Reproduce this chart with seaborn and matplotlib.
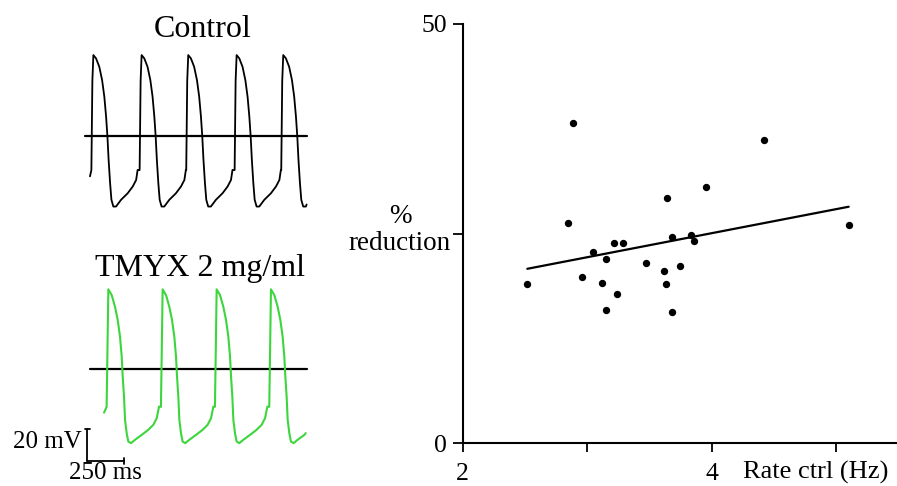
import numpy as np
import pandas as pd
import matplotlib
matplotlib.use('Agg')
import matplotlib.pyplot as plt
import seaborn as sns

# right panel: spontaneous rate in control vs % reduction
rate_ctrl = [2.884, 4.418, 3.954, 3.643, 2.846, 5.100, 3.679, 3.831, 3.855, 3.215, 3.290, 3.049,
             3.151, 3.470, 3.745, 3.614, 2.958, 3.119, 2.519, 3.630, 3.239, 3.153, 3.681]
pct_reduction = [38.2, 36.2, 30.6, 29.2, 26.3, 26.0, 24.6, 24.8, 24.1, 23.9, 23.9, 22.8,
                 22.0, 21.5, 21.1, 20.6, 19.8, 19.1, 19.0, 19.0, 17.8, 15.9, 15.6]

# left panel: one action potential of each trace, ms relative to the peak / mV
ctrl_beat_t = [-13.5, -6.8, 0, 18, 40, 59, 74, 86, 95, 103, 113, 122, 135, 153, 187, 232, 266, 289, 299]
ctrl_beat_v = [-22, 35, 51.5, 49.4, 44, 35.5, 24.9, 12.1, -0.6, -15.5, -30.4, -41, -45.3, -45.3,
               -41, -36.8, -32.5, -28.3, -21.9]
ctrl_peaks = [631, 957, 1272, 1599, 1914]
ctrl_start = (608, -26)
ctrl_end = (2072, -44)

tmyx_beat_t = [-11.5, -5.4, 0, 23, 45, 63.5, 79, 90.5, 97.3, 106, 113, 124, 135, 153, 180, 226,
               270, 304, 327, 342.6]
tmyx_beat_v = [-24, 15, 51.1, 47.4, 40, 31.5, 20.8, 8, -4.7, -17.5, -32.4, -40.8, -46.2, -47.2,
               -45.1, -41.9, -38.7, -35.5, -31.3, -23.9]
tmyx_peaks = [732, 1099, 1464, 1831]
tmyx_start = (703, -27.7)
tmyx_end = (2066, -40.8)

ctrl_offset = 149.3   # control trace drawn above the TMYX trace (mV)
scale_mv = 20
scale_ms = 250


def build_trace(beat_t, beat_v, peaks, start, end):
    t = [start[0]]
    v = [start[1]]
    for p in peaks:
        for bt, bv in zip(beat_t, beat_v):
            if p + bt < end[0]:
                t.append(p + bt)
                v.append(bv)
    t.append(end[0])
    v.append(end[1])
    return pd.DataFrame({'t': t, 'v': v})


ctrl = build_trace(ctrl_beat_t, ctrl_beat_v, ctrl_peaks, ctrl_start, ctrl_end)
ctrl['v'] = ctrl['v'] + ctrl_offset
tmyx = build_trace(tmyx_beat_t, tmyx_beat_v, tmyx_peaks, tmyx_start, tmyx_end)
scatter_df = pd.DataFrame({'rate': rate_ctrl, 'red': pct_reduction})

sns.set_style('ticks')
plt.rcParams['font.family'] = ['Liberation Serif', 'DejaVu Serif']
plt.rcParams.update({'text.color': 'black', 'axes.labelcolor': 'black',
                     'xtick.color': 'black', 'ytick.color': 'black',
                     'axes.edgecolor': 'black'})

fig = plt.figure(figsize=(8.97, 4.86), dpi=100)

# ---- left: traces
ax_l = fig.add_axes([0, 0, 330 / 897, 1])
ax_l.set_xlim(0, 2230)
ax_l.set_ylim(-74.6, 236)
ax_l.axis('off')

ax_l.plot([574, 2074], [ctrl_offset, ctrl_offset], color='black', lw=1.6)
ax_l.plot([608, 2072], [0, 0], color='black', lw=1.6)
sns.lineplot(data=ctrl, x='t', y='v', sort=False, estimator=None, color='black', lw=1.3, ax=ax_l)
sns.lineplot(data=tmyx, x='t', y='v', sort=False, estimator=None, color='#3cd63c', lw=1.5, ax=ax_l)

# scale bar
x0, y0 = 590, -58.4
ax_l.plot([x0, x0], [y0, y0 + scale_mv], color='black', lw=1.3)
ax_l.plot([x0 - 15, x0 + 15], [y0 + scale_mv, y0 + scale_mv], color='black', lw=1.3)
ax_l.plot([x0, x0 + scale_ms], [y0, y0], color='black', lw=1.3)
ax_l.plot([x0 + scale_ms, x0 + scale_ms], [y0 - 2, y0 + 2], color='black', lw=1.3)

fig.text(203 / 897, 1 - 36.7 / 486, 'Control', ha='center', va='baseline', fontsize=23)
fig.text(200 / 897, 1 - 276 / 486, 'TMYX 2 mg/ml', ha='center', va='baseline', fontsize=23)
fig.text(82 / 897, 1 - 448.3 / 486, '20 mV', ha='right', va='baseline', fontsize=18)
fig.text(105.5 / 897, 1 - 479 / 486, '250 ms', ha='center', va='baseline', fontsize=18)

# ---- right: scatter + regression
ax_r = fig.add_axes([462.7 / 897, 42.7 / 486, 434.3 / 897, 419.3 / 486])
sns.regplot(data=scatter_df, x='rate', y='red', ci=None, ax=ax_r,
            scatter_kws={'s': 28, 'color': 'black', 'linewidths': 0, 'alpha': 1},
            line_kws={'color': 'black', 'lw': 1.6})
ax_r.set_xlim(2, 5.488)
ax_r.set_ylim(0, 50)
ax_r.set_xticks([2, 3, 4, 5])
ax_r.set_xticklabels(['2', '', '4', ''])
ax_r.set_yticks([0, 25, 50])
ax_r.set_yticklabels(['0', '', '50'])
ax_r.set_xlabel('')
ax_r.set_ylabel('')
sns.despine(ax=ax_r)
for sp in ['left', 'bottom']:
    ax_r.spines[sp].set_linewidth(1.5)
ax_r.tick_params(axis='y', length=7.5, width=1.3, labelsize=18.5, pad=4)
ax_r.tick_params(axis='x', length=6.5, width=1.3, labelsize=18.5, pad=8)

fig.text(743 / 897, 1 - 479 / 486, 'Rate ctrl (Hz)', ha='left', va='baseline', fontsize=19)
fig.text(400 / 897, 1 - 230 / 486, '%\nreduction', ha='center', va='center', fontsize=19.5,
         linespacing=1.1)

fig.savefig('out.png', dpi=100)
